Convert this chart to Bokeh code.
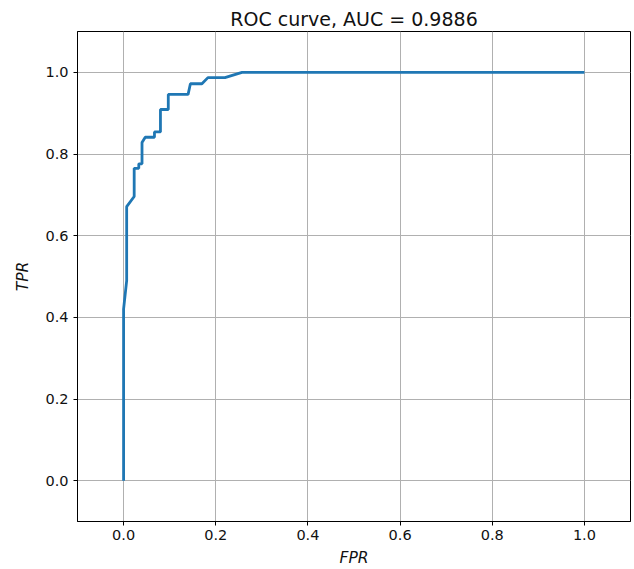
from bokeh.plotting import figure
from bokeh.models import FixedTicker, PrintfTickFormatter, Range1d
from bokeh.embed import file_html
from bokeh.resources import INLINE

# ROC curve points
fpr = [0.0, 0.0, 0.0067, 0.0067, 0.023, 0.023, 0.033, 0.033, 0.04, 0.04, 0.047,
       0.067, 0.067, 0.08, 0.08, 0.097, 0.097, 0.14, 0.145, 0.17, 0.183, 0.22,
       0.257, 1.0]
tpr = [0.0, 0.42, 0.49, 0.671, 0.696, 0.765, 0.765, 0.776, 0.776, 0.828, 0.841,
       0.841, 0.854, 0.854, 0.909, 0.909, 0.946, 0.946, 0.972, 0.972, 0.987,
       0.987, 1.0, 1.0]
ticks = [0.0, 0.2, 0.4, 0.6, 0.8, 1.0]
auc = "0.9886"
title_text = "ROC curve, AUC = " + auc

FONT = "DejaVu Sans"

p = figure(width=634, height=569, output_backend="svg", toolbar_location=None,
           x_range=Range1d(-0.1, 1.1), y_range=Range1d(-0.1, 1.1),
           min_border_left=77, min_border_right=4, min_border_top=31,
           min_border_bottom=47, background_fill_color="white",
           border_fill_color="white")

p.title.text = title_text
p.title.align = "center"
p.title.text_font = FONT
p.title.text_font_size = "19px"
p.title.text_font_style = "normal"
p.title.text_color = "#111111"
p.title.standoff = 3
p.title.offset = 0

p.outline_line_color = "black"
p.outline_line_width = 1
p.outline_line_alpha = 1

for ax in (p.xaxis[0], p.yaxis[0]):
    ax.ticker = FixedTicker(ticks=ticks)
    ax.formatter = PrintfTickFormatter(format="%.1f")
    ax.major_label_text_font = FONT
    ax.major_label_text_font_size = "14.5px"
    ax.major_label_text_color = "#111111"
    ax.axis_label_text_font = FONT
    ax.axis_label_text_font_size = "15.5px"
    ax.axis_label_text_font_style = "italic"
    ax.axis_label_text_color = "#111111"
    ax.major_tick_in = 0
    ax.major_tick_out = 4
    ax.minor_tick_line_color = None
    ax.axis_line_color = "black"
    ax.major_tick_line_color = "black"

p.xaxis.axis_label = "FPR"
p.yaxis.axis_label = "TPR"
p.xaxis.major_label_standoff = 4
p.xaxis.axis_label_standoff = 6
p.yaxis.major_label_standoff = 5
p.yaxis.axis_label_standoff = 10

p.xgrid.ticker = FixedTicker(ticks=ticks)
p.ygrid.ticker = FixedTicker(ticks=ticks)
for g in (p.xgrid[0], p.ygrid[0]):
    g.grid_line_color = "#b0b0b0"
    g.grid_line_width = 1

p.line(fpr, tpr, line_color="#1f77b4", line_width=2.8)

open("out.html", "w").write(file_html(p, INLINE))
